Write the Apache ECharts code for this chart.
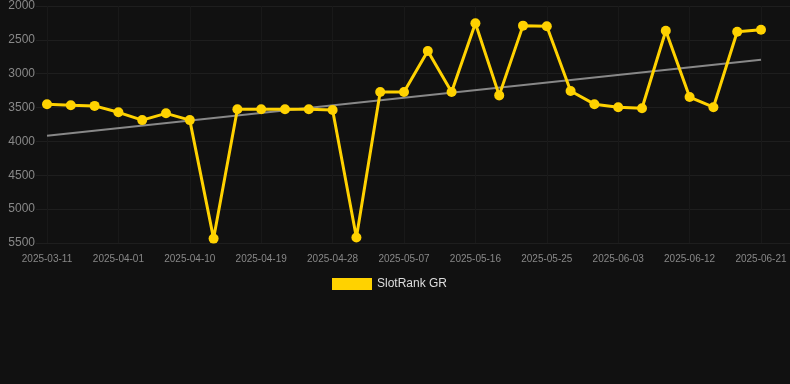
<!DOCTYPE html>
<html lang="en">
<head>
    <meta charset="UTF-8" />
    <title>SlotRank GR</title>
    <script src="https://cdn.jsdelivr.net/npm/echarts@6/dist/echarts.min.js"></script>
    <style>
        html, body { margin: 0; padding: 0; background: #111111; }
    </style>
</head>
<body>
    <div id="chart" style="width: 790px; height: 384px"></div>
    <script>
        // dates (category axis, label every 3rd)
        var dates = [
            "2025-03-11", "2025-03-18", "2025-03-25", "2025-04-01", "2025-04-04", "2025-04-07",
            "2025-04-10", "2025-04-13", "2025-04-16", "2025-04-19", "2025-04-22", "2025-04-25",
            "2025-04-28", "2025-05-01", "2025-05-04", "2025-05-07", "2025-05-10", "2025-05-13",
            "2025-05-16", "2025-05-19", "2025-05-22", "2025-05-25", "2025-05-28", "2025-05-31",
            "2025-06-03", "2025-06-06", "2025-06-09", "2025-06-12", "2025-06-15", "2025-06-18",
            "2025-06-21"
        ];

        // rank values
        var rankGR = [
            3450, 3465, 3475, 3570, 3685, 3585, 3685, 5435, 3525, 3525,
            3525, 3525, 3535, 5420, 3270, 3270, 2665, 3270, 2255, 3320,
            2290, 2300, 3255, 3450, 3495, 3510, 2365, 3345, 3495, 2380,
            2350
        ];

        // trend line end points
        var trendStart = 3915;
        var trendEnd = 2795;

        var yTicks = { min: 2000, max: 5500, interval: 500 };

        var trend = dates.map(function (d, i) {
            return i === 0 ? trendStart : (i === dates.length - 1 ? trendEnd : null);
        });

        var mCharts = echarts.init(document.getElementById("chart"));

        var option = {
            backgroundColor: "#111111",
            animation: false,
            legend: {
                data: ["SlotRank GR"],
                left: 327,
                top: 273,
                itemWidth: 40,
                itemHeight: 12,
                itemGap: 6,
                icon: "rect",
                textStyle: { color: "#dddddd", fontSize: 12, fontFamily: "Liberation Sans" }
            },
            grid: [
                // data grid
                { left: 47, right: 29, top: 6, bottom: 141 },
                // background grid for y labels & horizontal lines
                { left: 36, right: 0, top: 6, bottom: 141 }
            ],
            xAxis: [
                {
                    type: "category",
                    gridIndex: 0,
                    data: dates,
                    boundaryGap: false,
                    axisLine: { show: false },
                    axisTick: { show: false },
                    axisLabel: {
                        interval: 2,
                        color: "#888888",
                        fontSize: 10,
                        margin: 11,
                        fontFamily: "Liberation Sans"
                    },
                    splitLine: { show: true, interval: 2, lineStyle: { color: "#191919" } }
                },
                {
                    type: "category",
                    gridIndex: 1,
                    data: dates,
                    show: false
                }
            ],
            yAxis: [
                {
                    type: "value",
                    gridIndex: 0,
                    inverse: true,
                    min: yTicks.min,
                    max: yTicks.max,
                    interval: yTicks.interval,
                    axisLabel: { show: false },
                    axisLine: { show: false },
                    splitLine: { show: false }
                },
                {
                    type: "value",
                    gridIndex: 1,
                    inverse: true,
                    min: yTicks.min,
                    max: yTicks.max,
                    interval: yTicks.interval,
                    axisLine: { show: false },
                    axisTick: { show: false },
                    axisLabel: {
                        color: "#888888",
                        fontSize: 12,
                        margin: 1,
                        fontFamily: "Liberation Sans",
                        formatter: function (v) { return String(v); }
                    },
                    splitLine: { lineStyle: { color: "#1e1e1e" } }
                }
            ],
            series: [
                {
                    name: "trend",
                    type: "line",
                    xAxisIndex: 0,
                    yAxisIndex: 0,
                    data: trend,
                    connectNulls: true,
                    showSymbol: false,
                    symbol: "none",
                    lineStyle: { color: "#888888", width: 2 },
                    z: 1
                },
                {
                    name: "SlotRank GR",
                    type: "line",
                    xAxisIndex: 0,
                    yAxisIndex: 0,
                    data: rankGR,
                    symbol: "circle",
                    symbolSize: 10,
                    itemStyle: { color: "#FFD200" },
                    lineStyle: { color: "#FFD200", width: 3 },
                    z: 2
                }
            ]
        };

        mCharts.setOption(option);
    </script>
</body>
</html>
